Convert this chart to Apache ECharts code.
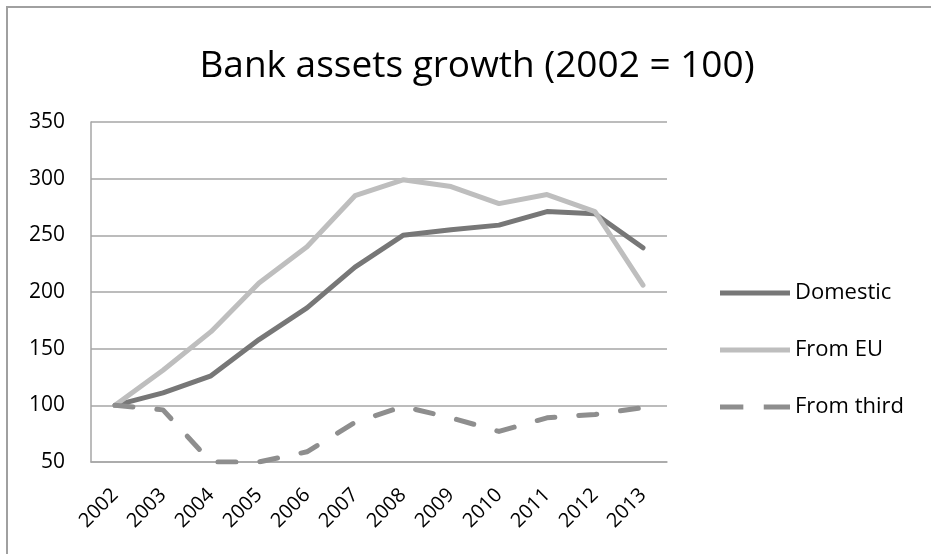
<!DOCTYPE html>
<html>
<head>
<meta charset="utf-8">
<script src="https://cdn.jsdelivr.net/npm/echarts@6/dist/echarts.min.js"></script>
<style>
  html, body { margin: 0; padding: 0; background: #fff; }
  #chart { width: 931px; height: 554px; }
</style>
</head>
<body>
<div id="chart"></div>
<script>
const years = ['2002', '2003', '2004', '2005', '2006', '2007', '2008', '2009', '2010', '2011', '2012', '2013'];
const domestic = [100, 111, 126, 158, 186, 222, 250, 255, 259, 271, 269, 239];
const fromEU = [100, 131, 165, 208, 240, 285, 299, 293, 278, 286, 271, 206];
const fromThird = [100, 96, 50, 50, 59, 85, 99, 89, 77, 89, 92, 98];
const yTicks = [50, 100, 150, 200, 250, 300, 350];

const FONT = '"Open Sans", "Liberation Sans", sans-serif';
const gridColor = '#a6a6a6';

// legend icons: solid bar, and two dashes for the dashed line
const solidIcon = 'path://M0,0h72v5h-72z';
const dashIcon = 'path://M0,0h24v5h-24z M45,0h27v5h-27z';

const chart = echarts.init(document.getElementById('chart'));

const lineSeries = (name, data, color, dashed) => ({
    name: name,
    type: 'line',
    data: data,
    symbol: 'none',
    smooth: false,
    lineStyle: {
        color: color,
        width: 5,
        cap: 'round',
        join: 'round',
        type: dashed ? [18, 24] : 'solid'
    },
    itemStyle: { color: color }
});

chart.setOption({
    backgroundColor: '#fff',
    animation: false,
    graphic: [{
        type: 'rect',
        shape: { x: 7, y: 7, width: 1000, height: 1000 },
        style: { fill: 'none', stroke: '#a0a0a0', lineWidth: 2 },
        silent: true
    }],
    title: {
        text: 'Bank assets growth (2002 = 100)',
        left: 472,
        textAlign: 'center',
        top: 43,
        textStyle: { fontFamily: FONT, fontSize: 37, fontWeight: 'normal', color: '#000' }
    },
    legend: {
        orient: 'vertical',
        left: 715,
        top: 277,
        itemGap: 35,
        itemWidth: 70,
        itemHeight: 5,
        textStyle: { fontFamily: FONT, fontSize: 22, color: '#000' },
        data: [
            { name: 'Domestic', icon: solidIcon },
            { name: 'From EU', icon: solidIcon },
            { name: 'From third', icon: dashIcon }
        ]
    },
    grid: { left: 91, top: 122, right: 264, bottom: 92, containLabel: false },
    xAxis: {
        type: 'category',
        data: years,
        boundaryGap: true,
        axisLine: { lineStyle: { color: gridColor, width: 1.5 } },
        axisTick: { show: false },
        axisLabel: {
            rotate: 45,
            margin: 30,
            fontFamily: FONT,
            fontSize: 20,
            color: '#000'
        }
    },
    yAxis: {
        type: 'value',
        min: yTicks[0],
        max: yTicks[yTicks.length - 1],
        interval: 50,
        axisLine: { show: true, lineStyle: { color: gridColor, width: 1.5 } },
        axisTick: { show: false },
        splitLine: { lineStyle: { color: gridColor, width: 1.5 } },
        axisLabel: {
            margin: 26,
            fontFamily: FONT,
            fontSize: 21,
            color: '#000'
        }
    },
    series: [
        lineSeries('Domestic', domestic, '#777777', false),
        lineSeries('From EU', fromEU, '#bebebe', false),
        lineSeries('From third', fromThird, '#8e8e8e', true)
    ]
});
</script>
</body>
</html>
